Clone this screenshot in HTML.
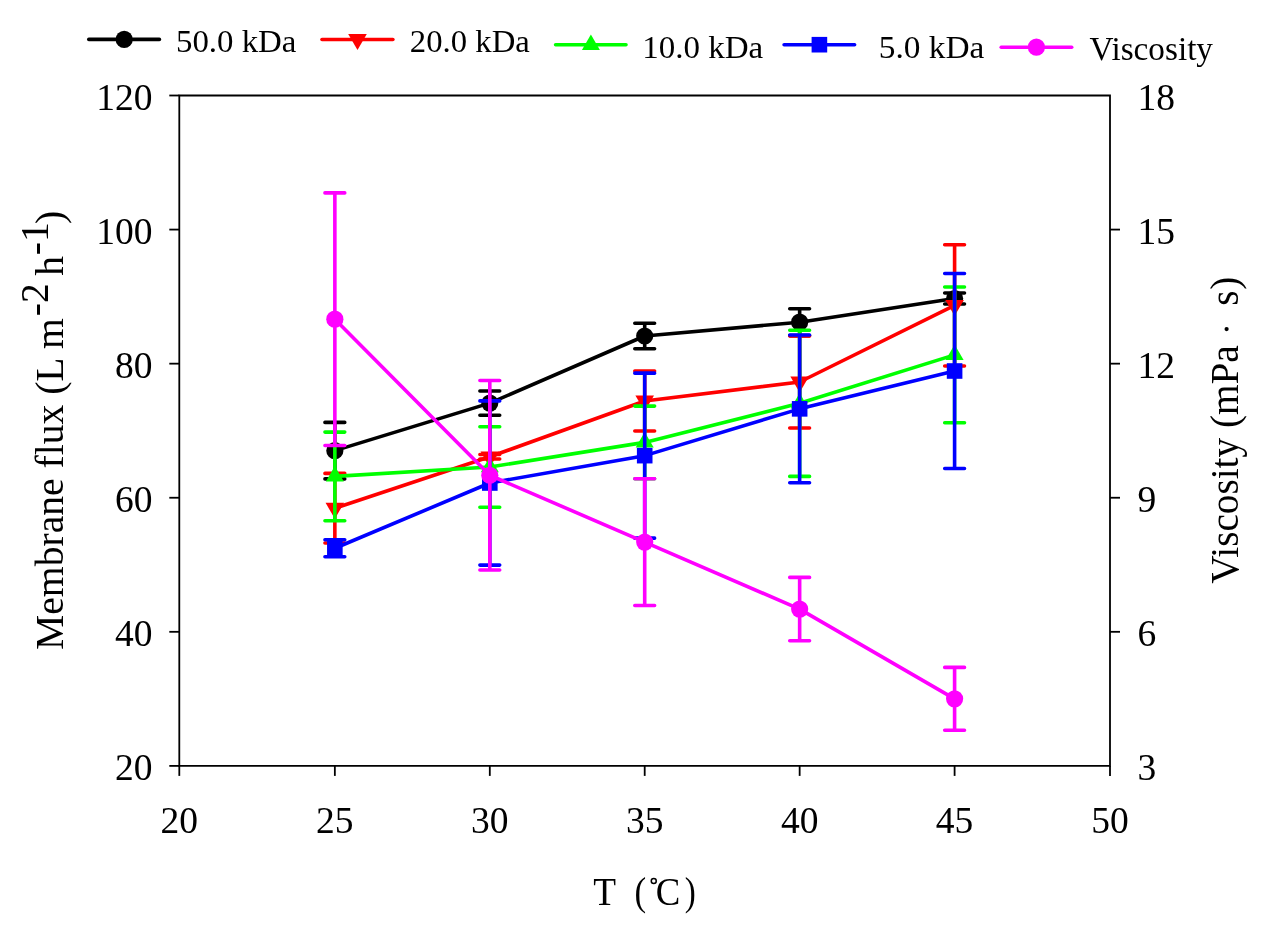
<!DOCTYPE html>
<html><head><meta charset="utf-8"><style>
html,body{margin:0;padding:0;background:#fff;}
body{width:1271px;height:927px;overflow:hidden;}
svg{display:block;will-change:transform;}
text{font-family:"Liberation Serif",serif;fill:#000;}
</style></head><body>
<svg width="1271" height="927" viewBox="0 0 1271 927">

<g stroke="#000" stroke-width="1.8" fill="none">
<path d="M179.3,95.5H1110.0V765.9H179.3Z"/>
<path d="M169.30,765.90H179.3"/>
<path d="M169.30,631.82H179.3"/>
<path d="M1110.0,631.82H1120.00"/>
<path d="M169.30,497.74H179.3"/>
<path d="M1110.0,497.74H1120.00"/>
<path d="M169.30,363.66H179.3"/>
<path d="M1110.0,363.66H1120.00"/>
<path d="M169.30,229.58H179.3"/>
<path d="M1110.0,229.58H1120.00"/>
<path d="M169.30,95.50H179.3"/>
<path d="M179.30,765.9V775.90"/>
<path d="M334.85,765.9V775.90"/>
<path d="M489.80,765.9V775.90"/>
<path d="M644.70,765.9V775.90"/>
<path d="M799.65,765.9V775.90"/>
<path d="M954.60,765.9V775.90"/>
<path d="M1110.00,765.9V775.90"/>
</g>
<g font-size="37.5">
<text x="152.4" y="780.20" text-anchor="end">20</text>
<text x="152.4" y="646.12" text-anchor="end">40</text>
<text x="152.4" y="512.04" text-anchor="end">60</text>
<text x="152.4" y="377.96" text-anchor="end">80</text>
<text x="152.4" y="243.88" text-anchor="end">100</text>
<text x="152.4" y="109.80" text-anchor="end">120</text>
<text x="1137.5" y="780.20">3</text>
<text x="1137.5" y="646.12">6</text>
<text x="1137.5" y="512.04">9</text>
<text x="1137.5" y="377.96">12</text>
<text x="1137.5" y="243.88">15</text>
<text x="1137.5" y="109.80">18</text>
<text x="179.30" y="832.7" text-anchor="middle">20</text>
<text x="334.85" y="832.7" text-anchor="middle">25</text>
<text x="489.80" y="832.7" text-anchor="middle">30</text>
<text x="644.70" y="832.7" text-anchor="middle">35</text>
<text x="799.65" y="832.7" text-anchor="middle">40</text>
<text x="954.60" y="832.7" text-anchor="middle">45</text>
<text x="1110.00" y="832.7" text-anchor="middle">50</text>
</g>
<text transform="translate(63.10,649.94) rotate(-90) scale(1.0156,1)" font-size="39">Membrane flux (L m</text>
<text transform="translate(47.80,316.17) rotate(-90) scale(1.0156,1)" font-size="39">-2</text>
<text transform="translate(63.10,275.69) rotate(-90) scale(1.0156,1)" font-size="39">h</text>
<text transform="translate(47.80,255.17) rotate(-90) scale(1.0156,1)" font-size="39">-1</text>
<text transform="translate(63.10,223.98) rotate(-90) scale(1.0156,1)" font-size="39">)</text>
<text transform="translate(1238.40,583.74) rotate(-90) scale(1.0066,1)" font-size="39">Viscosity (mPa</text>
<circle cx="1226.6" cy="329.1" r="2.1" fill="#000"/>
<text transform="translate(1238.40,305.71) rotate(-90) scale(1.0066,1)" font-size="39">s</text>
<text transform="translate(1238.40,289.77) rotate(-90) scale(1.0066,1)" font-size="39">)</text>
<text transform="translate(593.13,904.80) scale(0.9447,1)" font-size="39.5">T</text>
<text transform="translate(634.46,904.80) scale(0.8871,1)" font-size="39.5">(</text>
<circle cx="653.75" cy="881.0" r="2.5" fill="none" stroke="#000" stroke-width="1.5"/>
<text transform="translate(655.69,904.80) scale(0.9314,1)" font-size="39.5">C</text>
<text transform="translate(684.83,904.80) scale(0.8378,1)" font-size="39.5">)</text>
<g stroke="#000000" stroke-width="3.6" fill="none" stroke-linecap="round">
<path d="M334.85,422.40V478.90M324.95,422.40H344.75M324.95,478.90H344.75"/>
<path d="M489.80,391.00V415.20M479.90,391.00H499.70M479.90,415.20H499.70"/>
<path d="M644.70,323.25V348.75M634.80,323.25H654.60M634.80,348.75H654.60"/>
<path d="M799.65,308.80V335.60M789.75,308.80H809.55M789.75,335.60H809.55"/>
<path d="M954.60,293.05V303.95M944.70,293.05H964.50M944.70,303.95H964.50"/>
<polyline points="334.85,450.65 489.80,403.10 644.70,336.00 799.65,322.20 954.60,298.50" stroke-linejoin="round"/>
</g>
<circle cx="334.85" cy="450.65" r="8.6" fill="#000000"/>
<circle cx="489.80" cy="403.10" r="8.6" fill="#000000"/>
<circle cx="644.70" cy="336.00" r="8.6" fill="#000000"/>
<circle cx="799.65" cy="322.20" r="8.6" fill="#000000"/>
<circle cx="954.60" cy="298.50" r="8.6" fill="#000000"/>
<g stroke="#ff0000" stroke-width="3.6" fill="none" stroke-linecap="round">
<path d="M334.85,473.40V543.00M324.95,473.40H344.75M324.95,543.00H344.75"/>
<path d="M489.80,454.55V459.05M479.90,454.55H499.70M479.90,459.05H499.70"/>
<path d="M644.70,371.00V431.00M634.80,371.00H654.60M634.80,431.00H654.60"/>
<path d="M799.65,336.00V428.00M789.75,336.00H809.55M789.75,428.00H809.55"/>
<path d="M954.60,244.70V366.00M944.70,244.70H964.50M944.70,366.00H964.50"/>
<polyline points="334.85,508.20 489.80,456.80 644.70,401.00 799.65,382.00 954.60,305.35" stroke-linejoin="round"/>
</g>
<path d="M325.55,502.80H344.15L334.85,518.80Z" fill="#ff0000"/>
<path d="M480.50,451.40H499.10L489.80,467.40Z" fill="#ff0000"/>
<path d="M635.40,395.60H654.00L644.70,411.60Z" fill="#ff0000"/>
<path d="M790.35,376.60H808.95L799.65,392.60Z" fill="#ff0000"/>
<path d="M945.30,299.95H963.90L954.60,315.95Z" fill="#ff0000"/>
<g stroke="#00ff00" stroke-width="3.6" fill="none" stroke-linecap="round">
<path d="M334.85,432.10V520.70M324.95,432.10H344.75M324.95,520.70H344.75"/>
<path d="M489.80,426.80V507.20M479.90,426.80H499.70M479.90,507.20H499.70"/>
<path d="M644.70,406.10V478.70M634.80,406.10H654.60M634.80,478.70H654.60"/>
<path d="M799.65,330.20V476.40M789.75,330.20H809.55M789.75,476.40H809.55"/>
<path d="M954.60,287.00V422.70M944.70,287.00H964.50M944.70,422.70H964.50"/>
<polyline points="334.85,476.40 489.80,467.00 644.70,442.40 799.65,403.30 954.60,354.85" stroke-linejoin="round"/>
</g>
<path d="M325.85,481.60H343.85L334.85,466.10Z" fill="#00ff00"/>
<path d="M480.80,472.20H498.80L489.80,456.70Z" fill="#00ff00"/>
<path d="M635.70,447.60H653.70L644.70,432.10Z" fill="#00ff00"/>
<path d="M790.65,408.50H808.65L799.65,393.00Z" fill="#00ff00"/>
<path d="M945.60,360.05H963.60L954.60,344.55Z" fill="#00ff00"/>
<g stroke="#0000ff" stroke-width="3.6" fill="none" stroke-linecap="round">
<path d="M334.85,539.70V556.80M324.95,539.70H344.75M324.95,556.80H344.75"/>
<path d="M489.80,400.90V565.10M479.90,400.90H499.70M479.90,565.10H499.70"/>
<path d="M644.70,373.15V538.15M634.80,373.15H654.60M634.80,538.15H654.60"/>
<path d="M799.65,335.00V482.70M789.75,335.00H809.55M789.75,482.70H809.55"/>
<path d="M954.60,273.50V468.50M944.70,273.50H964.50M944.70,468.50H964.50"/>
<polyline points="334.85,548.25 489.80,483.00 644.70,455.65 799.65,408.85 954.60,371.00" stroke-linejoin="round"/>
</g>
<rect x="327.05" y="540.45" width="15.60" height="15.60" fill="#0000ff"/>
<rect x="482.00" y="475.20" width="15.60" height="15.60" fill="#0000ff"/>
<rect x="636.90" y="447.85" width="15.60" height="15.60" fill="#0000ff"/>
<rect x="791.85" y="401.05" width="15.60" height="15.60" fill="#0000ff"/>
<rect x="946.80" y="363.20" width="15.60" height="15.60" fill="#0000ff"/>
<g stroke="#ff00ff" stroke-width="3.6" fill="none" stroke-linecap="round">
<path d="M334.85,192.90V445.50M324.95,192.90H344.75M324.95,445.50H344.75"/>
<path d="M489.80,380.50V570.00M479.90,380.50H499.70M479.90,570.00H499.70"/>
<path d="M644.70,478.70V605.50M634.80,478.70H654.60M634.80,605.50H654.60"/>
<path d="M799.65,577.40V640.80M789.75,577.40H809.55M789.75,640.80H809.55"/>
<path d="M954.60,667.40V730.30M944.70,667.40H964.50M944.70,730.30H964.50"/>
<polyline points="334.85,319.20 489.80,475.25 644.70,542.10 799.65,609.10 954.60,698.85" stroke-linejoin="round"/>
</g>
<circle cx="334.85" cy="319.20" r="8.6" fill="#ff00ff"/>
<circle cx="489.80" cy="475.25" r="8.6" fill="#ff00ff"/>
<circle cx="644.70" cy="542.10" r="8.6" fill="#ff00ff"/>
<circle cx="799.65" cy="609.10" r="8.6" fill="#ff00ff"/>
<circle cx="954.60" cy="698.85" r="8.6" fill="#ff00ff"/>
<path d="M88.8,39.4H159.4" stroke="#000000" stroke-width="3.6" stroke-linecap="round"/>
<circle cx="124.20" cy="39.40" r="8.6" fill="#000000"/>
<text transform="translate(175.99,52.00) scale(1.0268,1)" font-size="32">50.0 kDa</text>
<path d="M322.0,39.5H392.90000000000003" stroke="#ff0000" stroke-width="3.6" stroke-linecap="round"/>
<path d="M348.20,34.10H366.80L357.50,50.10Z" fill="#ff0000"/>
<text transform="translate(409.86,52.10) scale(1.0228,1)" font-size="32">20.0 kDa</text>
<path d="M555.6,44.7H626.0" stroke="#00ff00" stroke-width="3.6" stroke-linecap="round"/>
<path d="M581.90,49.90H599.90L590.90,34.40Z" fill="#00ff00"/>
<text transform="translate(642.20,57.50) scale(1.0319,1)" font-size="32">10.0 kDa</text>
<path d="M784.1,44.7H854.5999999999999" stroke="#0000ff" stroke-width="3.6" stroke-linecap="round"/>
<rect x="811.60" y="36.90" width="15.60" height="15.60" fill="#0000ff"/>
<text transform="translate(878.86,57.50) scale(1.0423,1)" font-size="32">5.0 kDa</text>
<path d="M1001.2,47.2H1071.7" stroke="#ff00ff" stroke-width="3.6" stroke-linecap="round"/>
<circle cx="1036.40" cy="47.20" r="8.6" fill="#ff00ff"/>
<text transform="translate(1089.43,59.60) scale(0.9925,1)" font-size="33.5">Viscosity</text>
</svg>
</body></html>
